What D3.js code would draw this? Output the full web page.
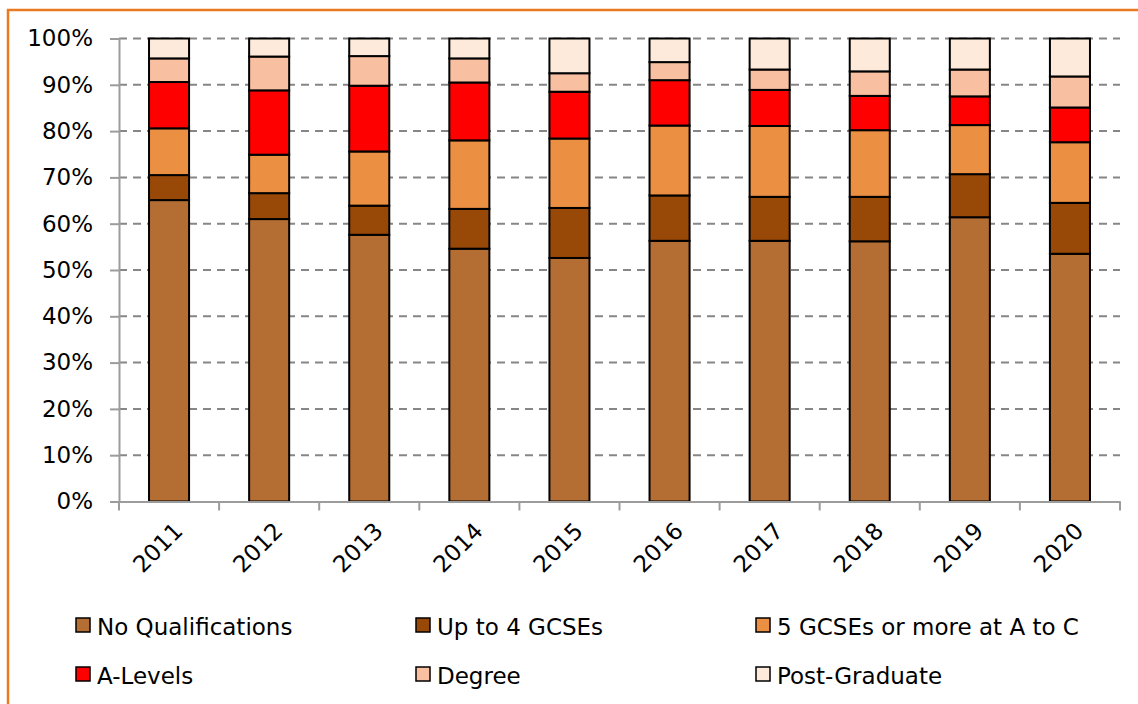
<!DOCTYPE html>
<html>
<head>
<meta charset="utf-8">
<script src="https://cdn.jsdelivr.net/npm/d3@7"></script>
<style>
  html, body { margin: 0; padding: 0; background: #fff; }
  svg { display: block; }
  text { font-family: "DejaVu Sans", sans-serif; fill: #000; }
</style>
</head>
<body>
<svg id="chart" width="1138" height="704"></svg>
<script>
const years = ["2011","2012","2013","2014","2015","2016","2017","2018","2019","2020"];
const seriesNames = ["No Qualifications","Up to 4 GCSEs","5 GCSEs or more at A to C","A-Levels","Degree","Post-Graduate"];
const seriesColors = ["#B46D33","#984807","#EB8F42","#FF0000","#F8BFA0","#FDEADA"];
const noQualifications = [65.1, 61.0, 57.6, 54.6, 52.6, 56.3, 56.3, 56.2, 61.4, 53.5];
const upTo4GCSEs       = [ 5.4,  5.6,  6.3,  8.6, 10.8,  9.8,  9.5,  9.6,  9.3, 11.0];
const fiveGCSEs        = [10.1,  8.3, 11.7, 14.8, 15.0, 15.1, 15.3, 14.4, 10.6, 13.1];
const aLevels          = [10.0, 13.9, 14.2, 12.5, 10.1,  9.8,  7.8,  7.4,  6.2,  7.5];
const degree           = [ 5.1,  7.3,  6.4,  5.2,  4.0,  3.9,  4.4,  5.3,  5.8,  6.7];
const postGraduate     = [ 4.3,  3.9,  3.8,  4.3,  7.5,  5.1,  6.7,  7.1,  6.7,  8.2];
const yTickValues = [0, 10, 20, 30, 40, 50, 60, 70, 80, 90, 100];

const seriesValues = [noQualifications, upTo4GCSEs, fiveGCSEs, aLevels, degree, postGraduate];
const rows = years.map((yr, i) => {
  const r = { year: yr };
  seriesNames.forEach((s, k) => r[s] = seriesValues[k][i]);
  return r;
});
const stacked = d3.stack().keys(seriesNames)(rows);

const svg = d3.select("#chart");
const plotL = 119, plotR = 1120, plotT = 38.5, plotB = 501.5;

// outer frame (orange)
svg.append("path")
  .attr("d", `M8,704 L8,10 L1138,10`)
  .attr("fill", "none").attr("stroke", "#E97A22").attr("stroke-width", 2.5);

const x = d3.scaleBand().domain(years).range([plotL, plotR]).paddingInner(0.6).paddingOuter(0.3);
const y = d3.scaleLinear().domain([0, 100]).range([plotB, plotT]);

// gridlines
svg.append("g").selectAll("line").data(yTickValues.filter(d => d > 0)).join("line")
  .attr("x1", plotL).attr("x2", plotR)
  .attr("y1", d => y(d)).attr("y2", d => y(d))
  .attr("stroke", "#868686").attr("stroke-width", 2).attr("stroke-dasharray", "8,6");

// bars
svg.append("g").selectAll("g").data(stacked).join("g")
  .attr("fill", (d, i) => seriesColors[i])
  .selectAll("rect").data(d => d).join("rect")
  .attr("x", d => x(d.data.year))
  .attr("width", x.bandwidth())
  .attr("y", d => y(d[1]))
  .attr("height", d => y(d[0]) - y(d[1]))
  .attr("stroke", "#000").attr("stroke-width", 2);

// y axis
const yAxis = svg.append("g").attr("transform", `translate(${plotL},0)`)
  .call(d3.axisLeft(y).tickValues(yTickValues).tickFormat(d => d + "%").tickSize(9).tickPadding(17));
yAxis.select(".domain").attr("stroke", "#9C9C9C").attr("stroke-width", 2);
yAxis.selectAll(".tick line").attr("stroke", "#9C9C9C").attr("stroke-width", 2);
yAxis.selectAll(".tick text").attr("font-size", 23).attr("font-family", null);

// x axis
const xAxis = svg.append("g").attr("transform", `translate(0,${plotB})`)
  .call(d3.axisBottom(x).tickSize(0).tickPadding(0));
xAxis.select(".domain").attr("stroke", "#9C9C9C").attr("stroke-width", 2);
xAxis.selectAll(".tick text")
  .attr("font-size", 23).attr("font-family", null)
  .attr("text-anchor", "end")
  .attr("dy", 0)
  .attr("transform", "translate(15,31) rotate(-45)");
// boundary ticks between categories
const step = x.step();
const boundaries = d3.range(years.length + 1).map(i => x(years[0]) - step * x.paddingOuter() + i * step);
xAxis.append("g").selectAll("line").data(boundaries).join("line")
  .attr("x1", d => d).attr("x2", d => d).attr("y1", 0).attr("y2", 9)
  .attr("stroke", "#9C9C9C").attr("stroke-width", 2);

// legend
const legendCols = [76, 416, 756];
const legendRows = [618, 667];
const legend = svg.append("g").selectAll("g").data(seriesNames).join("g")
  .attr("transform", (d, i) => `translate(${legendCols[i % 3]},${legendRows[Math.floor(i / 3)]})`);
legend.append("rect").attr("width", 14).attr("height", 14)
  .attr("fill", (d, i) => seriesColors[i]).attr("stroke", "#000").attr("stroke-width", 1.5);
legend.append("text").attr("x", 21).attr("y", 16.5).attr("font-size", 23).text(d => d);
</script>
</body>
</html>
